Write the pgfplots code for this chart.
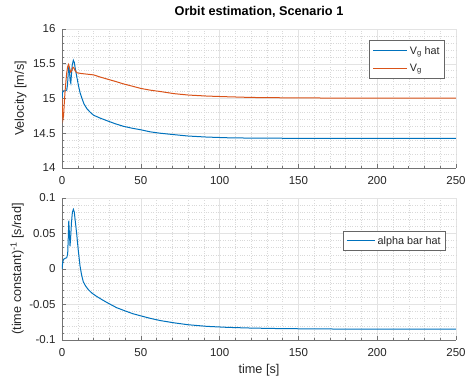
\documentclass[border=0pt]{standalone}
\usepackage{pgfplots}
\pgfplotsset{compat=1.18}
\usepackage{fontspec}
\setmainfont{Liberation Sans}
\definecolor{mblue}{rgb}{0,0.447,0.741}
\definecolor{morange}{rgb}{0.85,0.325,0.098}
\definecolor{txt}{gray}{0.15}
\pgfplotsset{
  mstyle/.style={
    scale only axis,
    width=394pt,
    xmin=0, xmax=250,
    xtick={0,50,100,150,200,250},
    minor x tick num=4,
    minor y tick num=4,
    axis x line*=bottom, axis y line*=left,
    axis line style={black!55, line width=0.5pt},
    tick align=inside,
    major tick length=4pt, minor tick length=2pt,
    tick style={black!55, line width=0.5pt},
    grid=both,
    major grid style={gray!22, line width=0.4pt},
    minor grid style={gray!30, dotted, line width=0.4pt},
    ticklabel style={font=\fontsize{11.5}{13}\selectfont, text=txt},
    xticklabel style={yshift=-5pt},
    yticklabel style={xshift=-3pt},
    /pgf/number format/assume math mode=true,
    label style={font=\fontsize{12.7}{14}\selectfont, text=txt},
    legend style={font=\fontsize{10.8}{12}\selectfont, draw=black!60, line width=0.5pt, inner xsep=3pt, inner ysep=4pt, row sep=4pt},
    legend cell align=left,
    every axis plot/.append style={line width=1pt},
  }
}
\begin{document}
\begin{tikzpicture}
\path[use as bounding box] (0,0) rectangle (467pt,378pt);
\begin{axis}[mstyle,
  at={(62pt,210pt)}, anchor=south west,
  height=139pt,
  ymin=14, ymax=16,
  ytick={14,14.5,15,15.5,16},
  yticklabels={14,14.5,15,15.5,16},
  xticklabels={0,50,100,150,200,250},
  ylabel={Velocity [m/s]},
  ylabel style={at={(axis description cs:-0.105,0.5)}, anchor=center},
  title={\bfseries Orbit estimation, Scenario 1},
  title style={at={(axis description cs:0.5,1)}, anchor=center, yshift=11pt, font=\fontsize{12.7}{14}\selectfont, text=black},
  legend style={at={(axis description cs:1,1)}, anchor=north east, xshift=-11pt, yshift=-11pt},
]
\addlegendimage{mblue, line width=1pt, legend image code/.code={\draw[draw=mblue, line width=1pt] (0cm,0cm) -- (1.2cm,0cm);}}
\addlegendentry{\color{txt}V\textsubscript{g} hat}
\addlegendimage{morange, line width=1pt, legend image code/.code={\draw[draw=morange, line width=1pt] (0cm,0cm) -- (1.2cm,0cm);}}
\addlegendentry{\color{txt}V\textsubscript{g}}
\addplot[mblue, forget plot] coordinates {
(0,15.0) (0.3,15.08) (0.6,15.10) (1,15.11) (2,15.11) (3,15.12) (3.5,15.2) (4.0,15.38) (4.3,15.45) (4.7,15.40) (5.2,15.25) (5.6,15.22) (6.0,15.35) (6.5,15.48) (7.2,15.55) (7.8,15.52) (8.5,15.42) (9.5,15.30) (10.5,15.18) (11.5,15.08) (12.7,15.00) (14,14.92) (15.9,14.85) (18,14.80) (20,14.76) (24,14.72) (28.6,14.68) (34,14.635) (39,14.60) (45,14.57) (50,14.55) (56,14.52) (62.5,14.50) (71,14.48) (80,14.46) (92,14.445) (105,14.435) (120,14.43) (140,14.428) (170,14.427) (200,14.427) (250,14.427)
};
\addplot[morange, forget plot] coordinates {
(0,15.0) (0.3,14.8) (0.6,14.70) (1.0,14.75) (1.5,14.95) (2.0,15.12) (2.5,15.25) (3.0,15.37) (3.6,15.46) (4.2,15.49) (4.8,15.44) (5.5,15.38) (6.2,15.40) (7.0,15.45) (7.6,15.44) (8.3,15.40) (9.5,15.37) (12,15.36) (16,15.35) (20,15.34) (24,15.31) (28.6,15.28) (34,15.245) (39,15.21) (45,15.175) (50,15.145) (56,15.12) (62.5,15.10) (71,15.07) (80,15.05) (92,15.035) (105,15.025) (120,15.015) (150,15.008) (200,15.005) (250,15.005)
};
\end{axis}
\begin{axis}[mstyle,
  at={(62pt,38pt)}, anchor=south west,
  height=142pt,
  ymin=-0.1, ymax=0.1,
  ytick={-0.1,-0.05,0,0.05,0.1},
  yticklabels={-0.1,-0.05,0,0.05,0.1},
  xticklabels={0,50,100,150,200,250},
  ylabel={(time constant)\textsuperscript{-1} [s/rad]},
  ylabel style={at={(axis description cs:-0.114,0.5)}, anchor=center},
  xlabel={time [s]},
  xlabel style={at={(axis description cs:0.5,0)}, anchor=center, yshift=-30pt},
  legend style={at={(axis description cs:1,1)}, anchor=north east, xshift=-10pt, yshift=-33pt, inner ysep=3pt},
]
\addlegendimage{mblue, line width=1.1pt, legend image code/.code={\draw[draw=mblue, line width=1.1pt] (0cm,0cm) -- (1.0cm,0cm);}}
\addlegendentry{\color{txt}alpha bar hat}
\addplot[mblue, forget plot] coordinates {
(0,0) (0.5,0.010) (1,0.0136) (2,0.015) (3,0.016) (3.6,0.021) (4.0,0.045) (4.3,0.068) (4.7,0.05) (5.1,0.032) (5.5,0.045) (6.0,0.065) (6.6,0.080) (7.2,0.084) (7.8,0.080) (8.5,0.066) (9.3,0.050) (10.3,0.027) (11.4,0.005) (12.4,-0.008) (13.5,-0.018) (15,-0.024) (16.7,-0.029) (19,-0.034) (22,-0.0386) (26,-0.044) (30,-0.049) (34.7,-0.0545) (40,-0.059) (45,-0.063) (50,-0.066) (56,-0.0695) (62.3,-0.0726) (71,-0.0758) (80,-0.0785) (92,-0.0808) (105,-0.0822) (120,-0.0832) (140,-0.0840) (170,-0.0845) (200,-0.0847) (250,-0.0848)
};
\end{axis}
\end{tikzpicture}
\end{document}
